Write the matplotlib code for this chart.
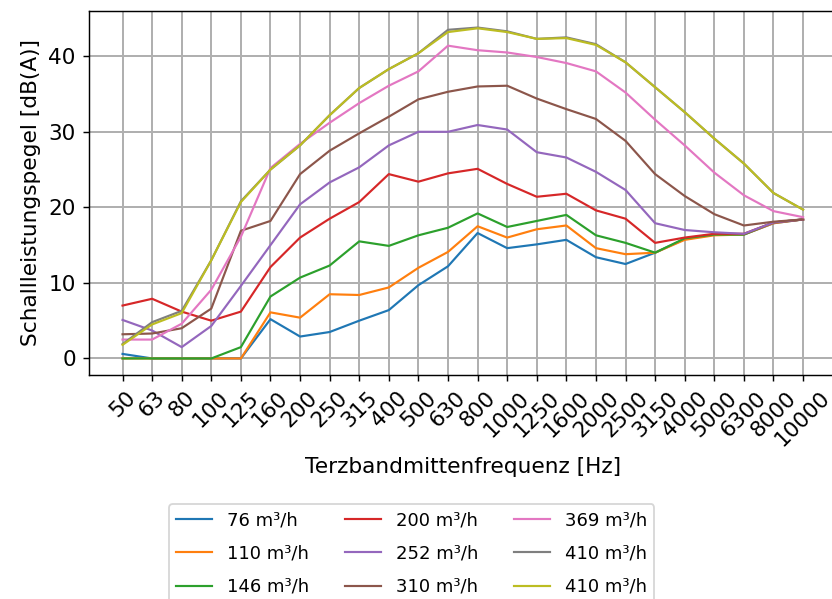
import matplotlib
matplotlib.use("Agg")
import matplotlib.pyplot as plt
import numpy as np

# Terzbaender
freqs = ["50", "63", "80", "100", "125", "160", "200", "250", "315", "400",
         "500", "630", "800", "1000", "1250", "1600", "2000", "2500", "3150",
         "4000", "5000", "6300", "8000", "10000"]

labels = ["76 m³/h", "110 m³/h", "146 m³/h", "200 m³/h", "252 m³/h",
          "310 m³/h", "369 m³/h", "410 m³/h", "410 m³/h"]

L_76 = [0.6, 0.0, 0.0, 0.0, 0.0, 5.2, 2.9, 3.5, 5.0, 6.4, 9.7, 12.2,
        16.6, 14.6, 15.1, 15.7, 13.4, 12.5, 14.0, 15.8, 16.4, 16.4, 17.9, 18.4]
L_110 = [0.0, 0.0, 0.0, 0.0, 0.0, 6.1, 5.4, 8.5, 8.4, 9.4, 12.0, 14.1,
         17.5, 16.0, 17.1, 17.6, 14.6, 13.8, 14.0, 15.7, 16.3, 16.4, 17.9, 18.4]
L_146 = [0.0, 0.0, 0.0, 0.0, 1.5, 8.2, 10.7, 12.3, 15.5, 14.9, 16.3, 17.3,
         19.2, 17.4, 18.2, 19.0, 16.3, 15.3, 14.0, 15.9, 16.4, 16.4, 18.0, 18.4]
L_200 = [7.0, 7.9, 6.2, 5.0, 6.2, 12.1, 16.0, 18.5, 20.7, 24.4, 23.4, 24.5,
         25.1, 23.1, 21.4, 21.8, 19.6, 18.5, 15.3, 16.0, 16.5, 16.5, 18.0, 18.4]
L_252 = [5.1, 3.7, 1.5, 4.3, 9.6, 15.0, 20.4, 23.3, 25.3, 28.2, 30.0, 30.0,
         30.9, 30.3, 27.3, 26.6, 24.7, 22.3, 17.9, 17.0, 16.7, 16.5, 18.0, 18.4]
L_310 = [3.2, 3.3, 4.0, 6.6, 16.9, 18.2, 24.4, 27.5, 29.8, 32.0, 34.3, 35.3,
         36.0, 36.1, 34.4, 33.0, 31.7, 28.8, 24.4, 21.5, 19.1, 17.6, 18.1, 18.4]
L_369 = [2.5, 2.5, 4.6, 9.1, 16.1, 25.2, 28.4, 31.2, 33.8, 36.1, 38.0, 41.4,
         40.8, 40.5, 39.9, 39.1, 38.0, 35.2, 31.6, 28.2, 24.6, 21.6, 19.5, 18.7]
L_410a = [1.9, 4.8, 6.3, 13.0, 20.8, 25.0, 28.2, 32.2, 35.8, 38.3, 40.4, 43.5,
          43.8, 43.3, 42.3, 42.5, 41.6, 39.2, 35.9, 32.6, 29.1, 25.8, 21.9, 19.7]
L_410b = [1.8, 4.5, 6.0, 13.0, 20.7, 25.0, 28.2, 32.2, 35.8, 38.3, 40.4, 43.2,
          43.7, 43.2, 42.3, 42.4, 41.5, 39.2, 35.9, 32.6, 29.1, 25.8, 21.9, 19.7]

series = [L_76, L_110, L_146, L_200, L_252, L_310, L_369, L_410a, L_410b]

fig = plt.figure(figsize=(6.4, 599 / 130), dpi=130)
ax = fig.add_axes([88.5 / 832, 1 - 375 / 599, 748.6 / 832, 364 / 599])

x = np.arange(len(freqs))
for vals, lab in zip(series, labels):
    ax.plot(x, vals, label=lab, linewidth=1.2)

ax.set_xticks(x)
ax.set_xticklabels(freqs, rotation=45)
ax.tick_params(labelsize=12)
ax.set_xlabel("Terzbandmittenfrequenz [Hz]", fontsize=12)
ax.set_ylabel("Schallleistungspegel [dB(A)]", fontsize=12)
ax.grid(True, linewidth=1.1)

fig.legend(loc="upper left", bbox_to_anchor=(160 / 832, 1 - 495 / 599),
           ncol=3, fontsize=10, labelspacing=0.85)

fig.savefig("out.png", dpi=130)
